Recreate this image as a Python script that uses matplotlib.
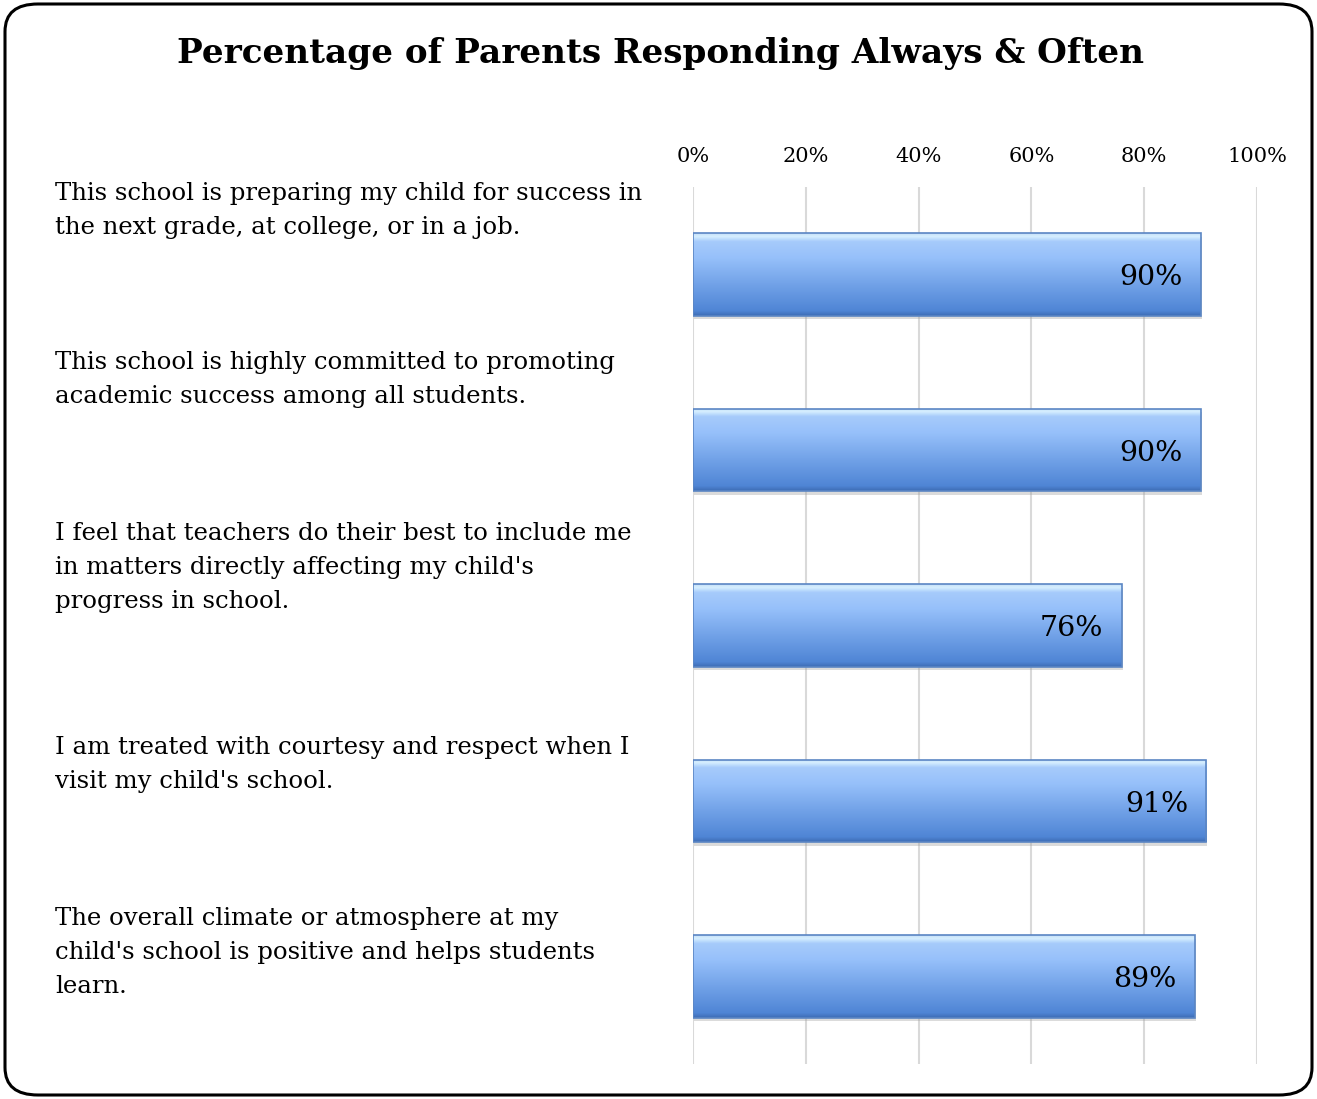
from matplotlib import pyplot as plt
from matplotlib.patches import FancyBboxPatch
from matplotlib.colors import LinearSegmentedColormap
import numpy as np

# data
questions = [
    "This school is preparing my child for success in\nthe next grade, at college, or in a job.",
    "This school is highly committed to promoting\nacademic success among all students.",
    "I feel that teachers do their best to include me\nin matters directly affecting my child's\nprogress in school.",
    "I am treated with courtesy and respect when I\nvisit my child's school.",
    "The overall climate or atmosphere at my\nchild's school is positive and helps students\nlearn.",
]
percent = [90, 90, 76, 91, 89]
ticks = [0, 20, 40, 60, 80, 100]
title = "Percentage of Parents Responding Always & Often"

# top of each question label, figure pixels from top
label_top_px = [182, 351, 522, 736, 907]

W, H = 1317, 1099
plt.rcParams['font.family'] = ['DejaVu Serif']
fig = plt.figure(figsize=(W / 100, H / 100), dpi=100)

# rounded outer frame
frame = FancyBboxPatch((5 / W, 4 / H), (W - 10) / W, (H - 8) / H,
                       boxstyle="round,pad=0,rounding_size=0.025",
                       transform=fig.transFigure, fill=False,
                       edgecolor='black', linewidth=2.2, zorder=10)
fig.patches.append(frame)

fig.text(660 / W, 1 - 53 / H, title, ha='center', va='center',
         fontsize=24.7, fontweight='bold')

ax = fig.add_axes([693 / W, 1 - 1064 / H, 564 / W, 877 / H])
n = len(percent)
ypos = np.arange(n)[::-1]
bar_h = 0.47
bars = ax.barh(ypos, percent, height=bar_h, color='none', edgecolor='none', zorder=3)

cmap = LinearSegmentedColormap.from_list('bar', [
    (0.0, '#3d6bb3'), (0.06, '#4f85d5'), (0.35, '#6e9fe6'),
    (0.7, '#96c0fa'), (0.9, '#a6cbfb'), (0.96, '#d6efff'), (1.0, '#c4def8')])
grad = np.linspace(0, 1, 256).reshape(-1, 1)

for b, v in zip(bars, percent):
    x0, y0 = b.get_x(), b.get_y()
    w, h = b.get_width(), b.get_height()
    # soft shadow
    ax.add_patch(plt.Rectangle((x0 + 0.2, y0 - 0.02), w, h, facecolor='#9a9a9a',
                               alpha=0.35, edgecolor='none', zorder=2))
    im = ax.imshow(grad, cmap=cmap, origin='lower', aspect='auto',
                   extent=[x0, x0 + w, y0, y0 + h], zorder=3, interpolation='bilinear')
    im.set_clip_path(b)
    ax.add_patch(plt.Rectangle((x0, y0), w, h, fill=False, edgecolor='#5b86c4',
                               linewidth=1.2, zorder=4))
    ax.text(x0 + w - 3.2, y0 + h * 0.46, f"{v}%", ha='right', va='center',
            fontsize=20.5, zorder=5)

ax.set_xlim(0, 100)
ax.set_ylim(-0.5, n - 0.5)
ax.set_xticks(ticks)
ax.set_xticklabels([f"{t}%" for t in ticks], fontsize=15)
ax.xaxis.tick_top()
ax.tick_params(axis='x', length=0, pad=15)
ax.set_yticks([])
ax.grid(axis='x', color='#d9d9d9', linewidth=1.5, zorder=0)
ax.set_axisbelow(True)
for s in ax.spines.values():
    s.set_visible(False)

for q, top in zip(questions, label_top_px):
    fig.text(55 / W, 1 - top / H, q, ha='left', va='top', fontsize=17.6,
             linespacing=1.62)

fig.savefig('out.png', dpi=100)
